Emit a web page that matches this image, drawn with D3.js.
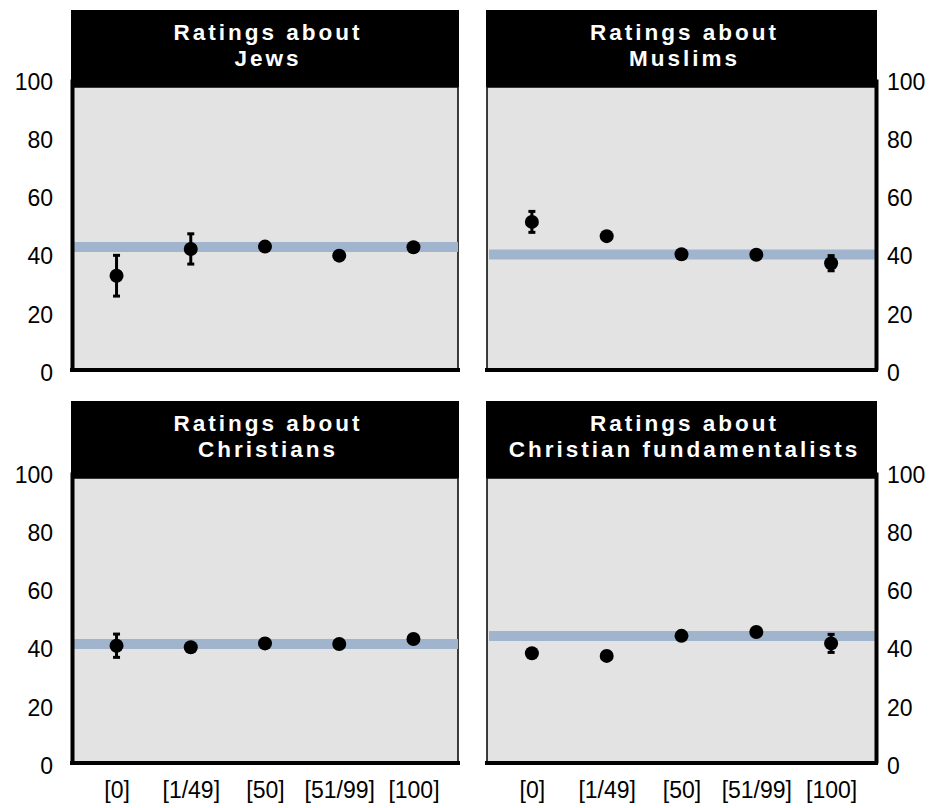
<!DOCTYPE html>
<html>
<head>
<meta charset="utf-8">
<script src="https://cdn.jsdelivr.net/npm/d3@7"></script>
<style>
  body { margin: 0; background: #fff; }
  svg { font-family: "Liberation Sans", Arial, sans-serif; }
  .axis text { font-size: 23px; fill: #000; }
  .title { font-size: 22.5px; font-weight: bold; fill: #fff; letter-spacing: 3px; }
</style>
</head>
<body>
<svg id="svg" width="940" height="808"></svg>
<script>
const SVG = d3.select("#svg");

// categories and ticks
const categories = ["[0]", "[1/49]", "[50]", "[51/99]", "[100]"];
const yTicks = [0, 20, 40, 60, 80, 100];

// panel titles
const titles = [
  ["Ratings about", "Jews"],
  ["Ratings about", "Muslims"],
  ["Ratings about", "Christians"],
  ["Ratings about", "Christian fundamentalists"]
];

// mean rating per category, +/- error, and overall mean (blue band)
const jews = [32.4, 41.6, 42.4, 39.3, 42.2];
const jewsErr = [7.0, 5.2, 1.0, 0.8, 0.8];
const jewsAll = 42.3;

const muslims = [50.9, 46.0, 39.8, 39.6, 36.7];
const muslimsErr = [3.6, 1.0, 1.0, 1.0, 2.6];
const muslimsAll = 39.7;

const christians = [40.3, 39.8, 41.1, 40.9, 42.6];
const christiansErr = [4.0, 1.0, 1.5, 1.0, 1.0];
const christiansAll = 40.9;

const fundamentalists = [37.7, 36.8, 43.7, 45.0, 41.1];
const fundamentalistsErr = [1.0, 1.0, 1.0, 1.0, 3.1];
const fundamentalistsAll = 43.6;

const panels = [
  { x0: 72, x1: 458, top: 10, bottom: 370, side: "left", xlabels: false, vals: jews, err: jewsErr, all: jewsAll },
  { x0: 487, x1: 876, top: 10, bottom: 370, side: "right", xlabels: false, vals: muslims, err: muslimsErr, all: muslimsAll },
  { x0: 72, x1: 458, top: 401, bottom: 763, side: "left", xlabels: true, vals: christians, err: christiansErr, all: christiansAll },
  { x0: 487, x1: 876, top: 401, bottom: 763, side: "right", xlabels: true, vals: fundamentalists, err: fundamentalistsErr, all: fundamentalistsAll }
];

const TITLE_H = 77;

panels.forEach((p, i) => {
  const g = SVG.append("g");
  const x = d3.scalePoint().domain(categories).range([p.x0, p.x1]).padding(0.6);
  const y = d3.scaleLinear().domain([0, 100]).range([p.bottom, p.bottom - 291]);

  // plot background
  g.append("rect")
    .attr("x", p.x0)
    .attr("y", p.top + TITLE_H)
    .attr("width", p.x1 - p.x0)
    .attr("height", p.bottom - p.top - TITLE_H)
    .attr("fill", "#e3e3e3")
    .attr("stroke", "#000")
    .attr("stroke-width", 1.5);

  // title box
  g.append("rect")
    .attr("x", p.x0 - 1)
    .attr("y", p.top)
    .attr("width", p.x1 - p.x0 + 2)
    .attr("height", TITLE_H)
    .attr("fill", "#000");
  titles[i].forEach((line, j) => {
    g.append("text")
      .attr("class", "title")
      .attr("x", (p.x0 + p.x1) / 2 + 3)
      .attr("y", p.top + 30 + j * 26)
      .attr("text-anchor", "middle")
      .text(line);
  });

  // overall mean band
  g.append("line")
    .attr("x1", p.x0 + 2)
    .attr("x2", p.x1)
    .attr("y1", y(p.all))
    .attr("y2", y(p.all))
    .attr("stroke", "#a1b4cd")
    .attr("stroke-width", 10);

  // y axis
  const yAxis = p.side == "left"
    ? d3.axisLeft(y).tickValues(yTicks).tickSize(0).tickPadding(19)
    : d3.axisRight(y).tickValues(yTicks).tickSize(0).tickPadding(11);
  const ya = g.append("g")
    .attr("class", "axis")
    .attr("transform", `translate(${p.side == "left" ? p.x0 : p.x1}, 0)`)
    .call(yAxis);
  ya.select(".domain").attr("stroke", "#000").attr("stroke-width", 4);
  ya.selectAll(".tick text").attr("transform", "translate(0, 3)");

  // x axis
  const xa = g.append("g")
    .attr("class", "axis")
    .attr("transform", `translate(0, ${p.bottom})`)
    .call(d3.axisBottom(x).tickSize(0).tickPadding(19).tickSizeOuter(0));
  xa.select(".domain")
    .attr("d", `M${p.x0 - 2},0H${p.x1 + 2}`)
    .attr("stroke", "#000")
    .attr("stroke-width", 4);
  if (!p.xlabels) xa.selectAll(".tick text").remove();

  // error bars
  const eb = g.append("g").attr("stroke", "#000").attr("stroke-width", 3);
  categories.forEach((c, k) => {
    const lo = y(p.vals[k] - p.err[k]),
      hi = y(p.vals[k] + p.err[k]);
    eb.append("line").attr("x1", x(c)).attr("x2", x(c)).attr("y1", lo).attr("y2", hi);
    eb.append("line").attr("x1", x(c) - 3.5).attr("x2", x(c) + 3.5).attr("y1", lo).attr("y2", lo);
    eb.append("line").attr("x1", x(c) - 3.5).attr("x2", x(c) + 3.5).attr("y1", hi).attr("y2", hi);
  });

  // points
  g.selectAll("circle.pt")
    .data(p.vals)
    .join("circle")
    .attr("class", "pt")
    .attr("cx", (d, k) => x(categories[k]))
    .attr("cy", (d) => y(d))
    .attr("r", 7)
    .attr("fill", "#000");
});
</script>
</body>
</html>
